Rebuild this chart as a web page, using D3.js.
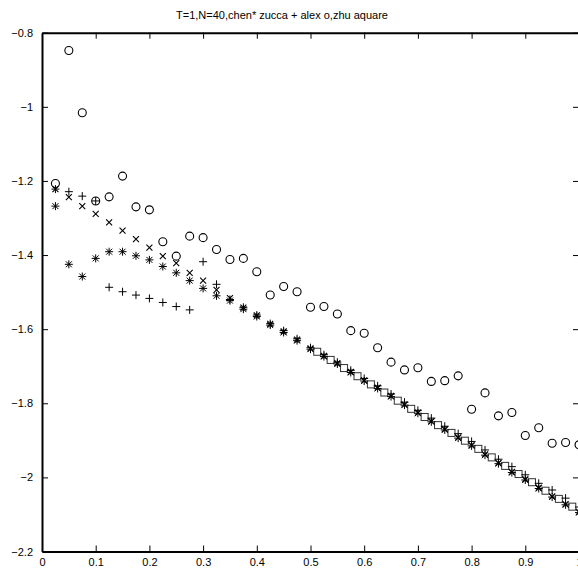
<!DOCTYPE html>
<html><head><meta charset="utf-8">
<script src="https://cdn.jsdelivr.net/npm/d3@7"></script>
<style>html,body{margin:0;padding:0;background:#fff;overflow:hidden}svg{display:block}</style>
</head><body><svg id="c" width="578" height="571"></svg>
<script>
const titleText = "T=1,N=40,chen* zucca + alex o,zhu aquare";
const xTicks = [0,0.1,0.2,0.3,0.4,0.5,0.6,0.7,0.8,0.9,1];
const xTickLabels = ["0","0.1","0.2","0.3","0.4","0.5","0.6","0.7","0.8","0.9","1"];
const yTicks = [-0.8,-1,-1.2,-1.4,-1.6,-1.8,-2,-2.2];
const yTickLabels = ["\u22120.8","\u22121","\u22121.2","\u22121.4","\u22121.6","\u22121.8","\u22122","\u22122.2"];

const gridX = [0.025,0.05,0.075,0.1,0.125,0.15,0.175,0.2,0.225,0.25,0.275,0.3,0.325,0.35,0.375,0.4,0.425,0.45,0.475,0.5,
  0.525,0.55,0.575,0.6,0.625,0.65,0.675,0.7,0.725,0.75,0.775,0.8,0.825,0.85,0.875,0.9,0.925,0.95,0.975,1.0];
// chen (*)
const chen = [-1.268,-1.425,-1.458,-1.409,-1.391,-1.391,-1.402,-1.413,-1.431,-1.448,-1.469,-1.490,-1.510,-1.523,-1.546,-1.566,-1.589,-1.609,-1.631,-1.654,
  -1.674,-1.694,-1.717,-1.740,-1.760,-1.782,-1.805,-1.827,-1.850,-1.872,-1.894,-1.915,-1.940,-1.963,-1.987,-2.007,-2.030,-2.053,-2.074,-2.095];
// zucca (+)
const zucca = [-1.222,-1.229,-1.241,-1.254,-1.487,-1.499,-1.508,-1.517,-1.528,-1.539,-1.548,-1.418,-1.479,-1.520,-1.541,-1.562,-1.585,-1.604,-1.626,-1.650,
  -1.669,-1.689,-1.711,-1.733,-1.753,-1.775,-1.797,-1.819,-1.840,-1.862,-1.882,-1.903,-1.926,-1.951,-1.971,-1.993,-2.016,-2.034,-2.056,-2.080];
// alex (o)
const alex = [-1.207,-0.848,-1.016,-1.254,-1.243,-1.187,-1.270,-1.278,-1.364,-1.403,-1.349,-1.353,-1.385,-1.412,-1.409,-1.445,-1.508,-1.485,-1.499,-1.541,
  -1.539,-1.559,-1.604,-1.611,-1.650,-1.689,-1.710,-1.704,-1.741,-1.739,-1.726,-1.816,-1.772,-1.834,-1.825,-1.887,-1.866,-1.908,-1.906,-1.912];
// reference (x)
const refX = [-1.222,-1.244,-1.268,-1.289,-1.312,-1.334,-1.357,-1.380,-1.403,-1.422,-1.448,-1.469,-1.494,-1.516,-1.542,-1.563,-1.586,-1.606,-1.628,-1.652,
  -1.672,-1.692,-1.715,-1.738,-1.758,-1.780,-1.803,-1.825,-1.848,-1.870,-1.892,-1.913,-1.938,-1.961,-1.985,-2.005,-2.028,-2.051,-2.072,-2.093];
// zhu (square)
const zhuX = [0.5125,0.5375,0.5625,0.5875,0.6125,0.6375,0.6625,0.6875,0.7125,0.7375,0.7625,0.7875,0.8125,0.8375,0.8625,0.8875,0.9125,0.9375,0.9625,0.9875];
const zhu = [-1.661,-1.683,-1.705,-1.727,-1.749,-1.771,-1.793,-1.815,-1.837,-1.859,-1.880,-1.901,-1.923,-1.946,-1.969,-1.991,-2.013,-2.036,-2.058,-2.079];

const svg = d3.select("#c");
const L = 42, R = 579, T = 32.7, B = 551.5;
const x = d3.scaleLinear().domain([0,1]).range([L,R]);
const y = d3.scaleLinear().domain([-2.2,-0.8]).range([B,T]);
const font = "Liberation Sans, Arial, Helvetica, sans-serif";

svg.append("text").attr("x",282).attr("y",19).attr("text-anchor","middle")
  .attr("font-family",font).attr("font-size",11).attr("fill","#000").text(titleText);

const ax = (g) => { g.select(".domain").attr("stroke","#000").attr("stroke-width",2);
  g.selectAll(".tick line").attr("stroke","#000").attr("stroke-width",1);
  g.selectAll("text").attr("font-family",font).attr("font-size",11).attr("fill","#000"); };

svg.append("g").attr("transform",`translate(0,${B})`)
  .call(d3.axisBottom(x).tickValues(xTicks).tickFormat((d,i)=>xTickLabels[i]).tickSize(-6).tickSizeOuter(0).tickPadding(7)).call(ax);
svg.append("g").attr("transform",`translate(0,${T})`)
  .call(d3.axisTop(x).tickValues(xTicks).tickFormat("").tickSize(-6).tickSizeOuter(0)).call(ax);
svg.append("g").attr("transform",`translate(${L},0)`)
  .call(d3.axisLeft(y).tickValues(yTicks).tickFormat((d,i)=>yTickLabels[i]).tickSize(-6).tickSizeOuter(0).tickPadding(9)).call(ax);
svg.append("g").attr("transform",`translate(${R},0)`)
  .call(d3.axisRight(y).tickValues(yTicks).tickFormat("").tickSize(-6).tickSizeOuter(0)).call(ax);

const s = 4, d = 3, e = 3;
const plusP = `M${-s},0H${s}M0,${-s}V${s}`;
const xP = `M${-d},${-d}L${d},${d}M${-d},${d}L${d},${-d}`;
const starP = plusP + `M${-e},${-e}L${e},${e}M${-e},${e}L${e},${-e}`;

const pts = (xs, ys) => xs.map((v,i)=>({x:v,y:ys[i]}));
const g = svg.append("g");

g.selectAll(".sq").data(pts(zhuX, zhu)).join("rect")
  .attr("x",p=>x(p.x)-3.5).attr("y",p=>y(p.y)-3.5).attr("width",7).attr("height",7)
  .attr("fill","none").attr("stroke","#333").attr("stroke-width",1);
g.selectAll(".cx").data(pts(gridX, refX)).join("path").attr("d",xP)
  .attr("transform",p=>`translate(${x(p.x)},${y(p.y)})`).attr("stroke","#000").attr("stroke-width",1.1).attr("fill","none");
g.selectAll(".st").data(pts(gridX, chen)).join("path").attr("d",starP)
  .attr("transform",p=>`translate(${x(p.x)},${y(p.y)})`).attr("stroke","#000").attr("stroke-width",1).attr("fill","none");
g.selectAll(".pl").data(pts(gridX, zucca)).join("path").attr("d",plusP)
  .attr("transform",p=>`translate(${x(p.x)},${y(p.y)})`).attr("stroke","#000").attr("stroke-width",1).attr("fill","none");
g.selectAll(".ci").data(pts(gridX, alex)).join("circle")
  .attr("cx",p=>x(p.x)).attr("cy",p=>y(p.y)).attr("r",4)
  .attr("fill","none").attr("stroke","#000").attr("stroke-width",1.1);
</script></body></html>
